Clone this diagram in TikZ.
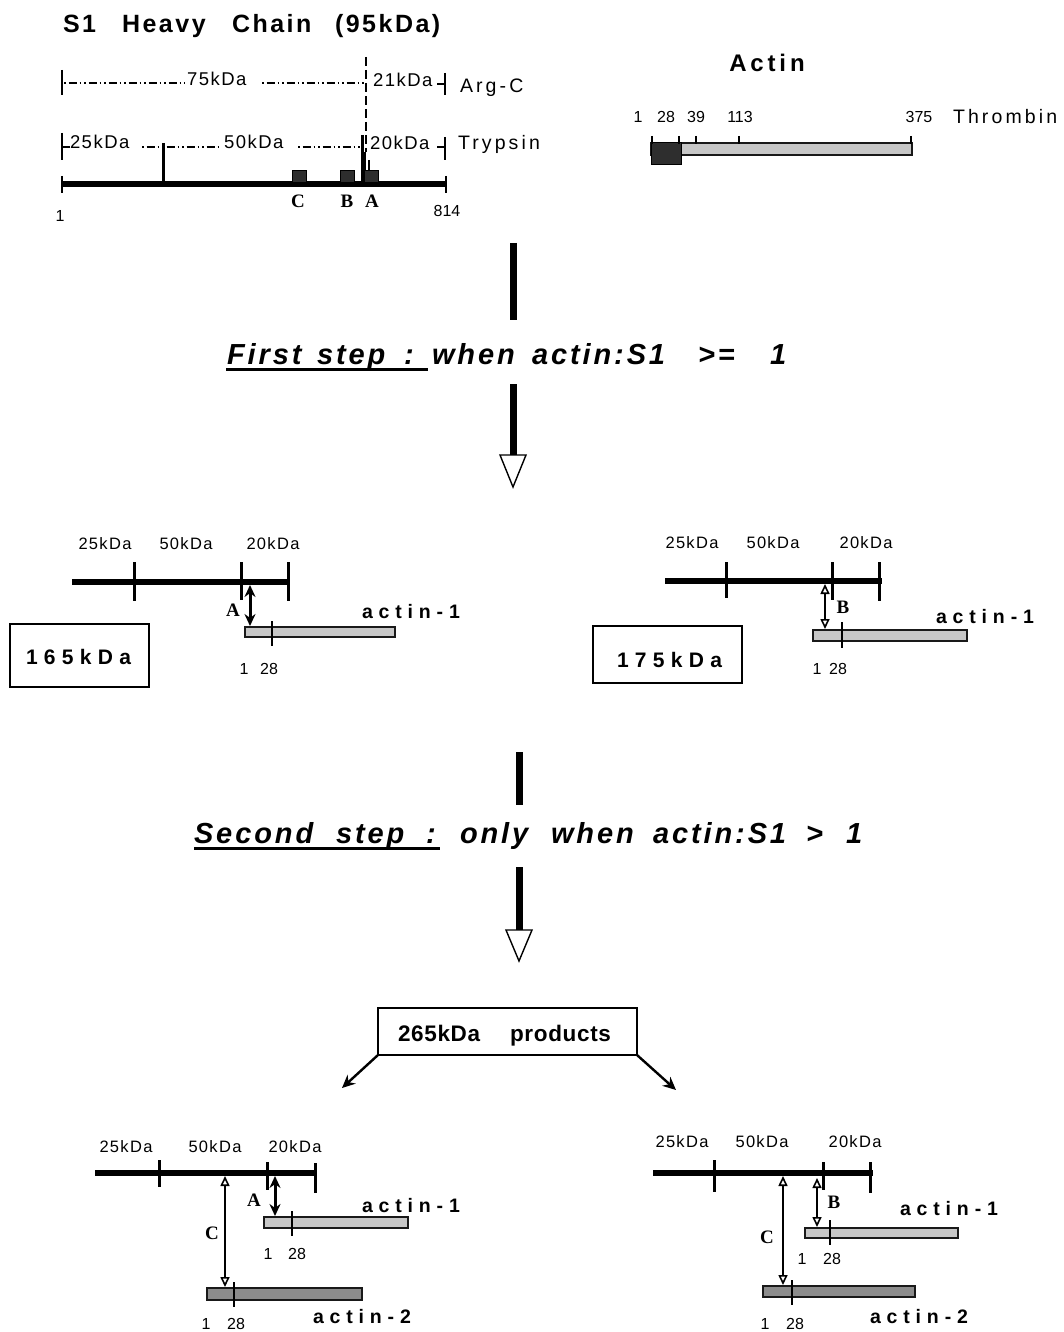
\documentclass[tikz,border=0pt]{standalone}
\usepackage{fontspec}
\setmainfont{Liberation Sans}
\newfontfamily\tms{Liberation Serif}
\newfontfamily\spT[LetterSpace=10]{Liberation Sans}
\newfontfamily\spA[LetterSpace=16]{Liberation Sans}
\newfontfamily\spB[LetterSpace=8]{Liberation Sans}
\newfontfamily\spP[LetterSpace=3]{Liberation Sans}
\newfontfamily\spC[LetterSpace=30]{Liberation Sans}
\usetikzlibrary{arrows.meta}
\begin{document}
\begin{tikzpicture}[x=1pt,y=-1pt,
  every node/.style={inner sep=0pt,outer sep=0pt},
  ttl/.style={font=\spT\bfseries\fontsize{25}{28}\selectfont,anchor=base west},
  lab/.style={font=\spB\fontsize{18.5}{21}\selectfont,anchor=base west},
  biglab/.style={font=\spA\fontsize{19.5}{22}\selectfont,anchor=base west},
  num/.style={font=\fontsize{16}{18}\selectfont,anchor=base},
  klab/.style={font=\spB\fontsize{16.5}{19}\selectfont,anchor=base},
  act/.style={font=\spC\bfseries\fontsize{19.5}{22}\selectfont,anchor=base west},
  kd/.style={font=\spC\bfseries\fontsize{21}{24}\selectfont,anchor=base west},
  stp/.style={font=\spT\bfseries\itshape\fontsize{29}{32}\selectfont,anchor=base west},
  prd/.style={font=\spP\bfseries\fontsize{22.5}{25}\selectfont,anchor=base west},
  tb/.style={font=\tms\bfseries\fontsize{19}{22}\selectfont},
  tk/.style={line width=2.4pt},
  tk2/.style={line width=3pt},
  dd/.style={line width=1.8pt,dash pattern=on 1.5pt off 3pt on 8pt off 3pt on 1.5pt off 3pt},
  chain/.style={line width=5.5pt},
  dkbox/.style={draw=black,line width=1pt,fill=black!82},
  lbar/.style={draw=black!90,line width=2.5pt,fill=black!22},
  dbar/.style={draw=black!90,line width=2.5pt,fill=black!45},
  flow/.style={line width=7pt},
  head/.style={draw=black,line width=1.4pt,fill=white},
  uline/.style={line width=3pt},
  solid2/.style={line width=3pt,{Stealth[length=12pt,width=11pt]}-{Stealth[length=12pt,width=11pt]}},
  open2/.style={line width=1.6pt,{Triangle[open,length=10pt,width=9pt,fill=white]}-{Triangle[open,length=10pt,width=9pt,fill=white]}},
  box/.style={draw=black,line width=2.2pt},
  thinar/.style={line width=2.4pt,-{Stealth[length=13pt,width=12pt]}}
]
\useasboundingbox (0,0) rectangle (1064,1332);

% ---------------- S1 heavy chain ----------------
\node[ttl] (t1) at (63,33) {S1};
\node[ttl] (t2) at (122,33) {Heavy};
\node[ttl] (t3) at (232,33) {Chain};
\node[ttl] (t4) at (335,33) {(95kDa)};
% Arg-C row
\draw[tk] (62,70) -- (62,95);
\draw[dd] (64,83) -- (185,83);
\node[lab] (k75) at (187,86) {75kDa};
\draw[dd] (262,83) -- (366,83);
\node[lab] (k21) at (373,87) {21kDa};
\draw[tk] (437,84) -- (445,84);
\draw[tk] (445,73) -- (445,95);
\node[biglab] (argc) at (460,93) {Arg-C};
% Trypsin row
\draw[tk] (62,133) -- (62,160);
\draw[tk] (62,147) -- (70,147);
\node[lab] (k25) at (70,149) {25kDa};
\draw[dd] (142,147) -- (222,147);
\node[lab] (k50) at (224,149) {50kDa};
\draw[dd] (298,147) -- (360,147);
\node[lab] (k20) at (370,150) {20kDa};
\draw[tk] (437,147) -- (445,147);
\draw[tk] (445,137) -- (445,160);
\node[biglab] (tryp) at (458,150) {Trypsin};
% verticals
\draw[line width=2.4pt,dash pattern=on 9pt off 4pt] (366,57) -- (366,152);
\draw[tk2] (163,143) -- (163,184);
\draw[tk2] (362,135) -- (362,184);
\draw[line width=1.3pt] (365,152) -- (365,172);
\draw[line width=1.3pt] (369,160) -- (369,172);
% chain
\draw[chain] (62,184) -- (446,184);
\draw[tk] (62,176) -- (62,193);
\draw[tk] (446,176) -- (446,193);
\draw[dkbox] (292,171) rectangle (306,183);
\draw[dkbox] (340,171) rectangle (354,183);
\draw[dkbox] (364,171) rectangle (378,183);
\node[tb] (lC) at (298,201) {C};
\node[tb] (lB) at (347,201) {B};
\node[tb] (lA) at (372,201) {A};
\node[num] (n1) at (60,222) {1};
\node[num] (n814) at (447,217) {814};

% ---------------- Actin ----------------
\node[font=\spA\bfseries\fontsize{24}{27}\selectfont] (actin) at (767,63) {Actin};
\node[num] (a1) at (638,123) {1};
\node[num] (a28) at (666,123) {28};
\node[num] (a39) at (696,123) {39};
\node[num] (a113) at (740,123) {113};
\node[num] (a375) at (919,123) {375};
\node[biglab] (thr) at (953,124) {Thrombin};
\draw[lbar] (651,143) rectangle (912,155);
\draw[dkbox] (651,143) rectangle (681,165);
\foreach \x in {652,679,696,739,911} \draw[tk] (\x,136) -- (\x,144);

% ---------------- First step ----------------
\coordinate (f1a) at (513,243);
\coordinate (f1b) at (513,320);
\draw[flow] (f1a) -- (f1b);
\node[stp] (s1a) at (227,364) {First};
\node[stp] (s1b) at (317,364) {step};
\node[stp] (s1c) at (404,364) {:};
\draw[uline] (226,369.5) -- (428,369.5);
\node[stp] (s1d) at (432,364) {when};
\node[stp] (s1e) at (532,364) {actin:S1};
\node[stp] (s1f) at (698,364) {>=};
\node[stp] (s1g) at (770,364) {1};
\coordinate (f1c) at (513,384);
\coordinate (f1d) at (513,457);
\draw[flow] (f1c) -- (f1d);
\draw[head] (500,455) -- (526,455) -- (513,487) -- cycle;

% ---------------- 165 kDa ----------------
\node[klab] (m1a) at (105,549) {25kDa};
\node[klab] (m1b) at (186,549) {50kDa};
\node[klab] (m1c) at (273,549) {20kDa};
\draw[chain] (72,582) -- (290,582);
\draw[tk2] (134,562) -- (134,601);
\draw[tk2] (241,562) -- (241,600);
\draw[tk2] (288,562) -- (288,601);
\draw[lbar] (245,627) rectangle (395,637);
\draw[tk] (272,621) -- (272,646);
\coordinate (m1top) at (250,585);
\coordinate (m1bot) at (250,626);
\draw[solid2] (m1top) -- (m1bot);
\node[tb] (m1A) at (233,610) {A};
\node[act] (m1act) at (362,618) {actin-1};
\node[num] (m1n1) at (244,674) {1};
\node[num] (m1n28) at (269,674) {28};
\draw[box] (10,624) rectangle (149,687);
\node[kd] (k165) at (26,664) {165kDa};

% ---------------- 175 kDa ----------------
\node[klab] (m2a) at (692,548) {25kDa};
\node[klab] (m2b) at (773,548) {50kDa};
\node[klab] (m2c) at (866,548) {20kDa};
\draw[chain] (665,581) -- (882,581);
\draw[tk2] (726,562) -- (726,598);
\draw[tk2] (832,562) -- (832,600);
\draw[tk2] (879,562) -- (879,601);
\draw[lbar] (813,630) rectangle (967,641);
\draw[tk] (842,622) -- (842,648);
\coordinate (m2top) at (825,584);
\coordinate (m2bot) at (825,629);
\draw[open2] (m2top) -- (m2bot);
\node[tb] (m2B) at (843,607) {B};
\node[act] (m2act) at (936,623) {actin-1};
\node[num] (m2n1) at (817,674) {1};
\node[num] (m2n28) at (838,674) {28};
\draw[box] (593,626) rectangle (742,683);
\node[kd] (k175) at (617,667) {175kDa};

% ---------------- Second step ----------------
\coordinate (f2a) at (519,752);
\coordinate (f2b) at (519,805);
\draw[flow] (f2a) -- (f2b);
\node[stp] (s2a) at (194,843) {Second};
\node[stp] (s2b) at (336,843) {step};
\node[stp] (s2c) at (426,843) {:};
\draw[uline] (194,848.5) -- (440,848.5);
\node[stp] (s2d) at (460,843) {only};
\node[stp] (s2e) at (551,843) {when};
\node[stp] (s2f) at (653,843) {actin:S1};
\node[stp] (s2g) at (806,843) {>};
\node[stp] (s2h) at (846,843) {1};
\coordinate (f2c) at (519,867);
\coordinate (f2d) at (519,932);
\draw[flow] (f2c) -- (f2d);
\draw[head] (506,930) -- (532,930) -- (519,961) -- cycle;

\node[box,minimum width=259pt,minimum height=47pt] (prod) at (507.5,1031.5) {};
\node[prd] (prdA) at (398,1041) {265kDa};
\node[prd] (prdB) at (510,1041) {products};
\coordinate (pl) at (342,1088);
\coordinate (pr) at (676,1090);
\draw[thinar] (prod.south west) -- (pl);
\draw[thinar] (prod.south east) -- (pr);

% ---------------- bottom left ----------------
\node[klab] (b1a) at (126,1152) {25kDa};
\node[klab] (b1b) at (215,1152) {50kDa};
\node[klab] (b1c) at (295,1152) {20kDa};
\draw[chain] (95,1173) -- (317,1173);
\draw[tk2] (159,1160) -- (159,1187);
\draw[tk2] (267,1162) -- (267,1190);
\draw[tk2] (315,1163) -- (315,1193);
\draw[lbar] (264,1217) rectangle (408,1228);
\draw[tk] (292,1211) -- (292,1236);
\draw[dbar] (207,1288) rectangle (362,1300);
\draw[tk] (234,1282) -- (234,1307);
\coordinate (b1Ct) at (225,1176);
\coordinate (b1Cb) at (225,1287);
\draw[open2] (b1Ct) -- (b1Cb);
\node[tb] (b1C) at (212,1233) {C};
\coordinate (b1At) at (275,1176);
\coordinate (b1Ab) at (275,1216);
\draw[solid2] (b1At) -- (b1Ab);
\node[tb] (b1A) at (254,1200) {A};
\node[act] (b1act1) at (362,1212) {actin-1};
\node[num] (b1n1) at (268,1259) {1};
\node[num] (b1n28) at (297,1259) {28};
\node[act] (b1act2) at (313,1323) {actin-2};
\node[num] (b1m1) at (206,1329) {1};
\node[num] (b1m28) at (236,1329) {28};

% ---------------- bottom right ----------------
\node[klab] (b2a) at (682,1147) {25kDa};
\node[klab] (b2b) at (762,1147) {50kDa};
\node[klab] (b2c) at (855,1147) {20kDa};
\draw[chain] (653,1173) -- (873,1173);
\draw[tk2] (714,1160) -- (714,1192);
\draw[tk2] (823,1162) -- (823,1190);
\draw[tk2] (870,1162) -- (870,1193);
\draw[lbar] (805,1228) rectangle (958,1238);
\draw[tk] (830,1220) -- (830,1245);
\draw[dbar] (763,1286) rectangle (915,1297);
\draw[tk] (792,1280) -- (792,1305);
\coordinate (b2Ct) at (783,1176);
\coordinate (b2Cb) at (783,1285);
\draw[open2] (b2Ct) -- (b2Cb);
\node[tb] (b2C) at (767,1237) {C};
\coordinate (b2Bt) at (817,1178);
\coordinate (b2Bb) at (817,1227);
\draw[open2] (b2Bt) -- (b2Bb);
\node[tb] (b2B) at (834,1202) {B};
\node[act] (b2act1) at (900,1215) {actin-1};
\node[num] (b2n1) at (802,1264) {1};
\node[num] (b2n28) at (832,1264) {28};
\node[act] (b2act2) at (870,1323) {actin-2};
\node[num] (b2m1) at (765,1329) {1};
\node[num] (b2m28) at (795,1329) {28};
\end{tikzpicture}
\end{document}
